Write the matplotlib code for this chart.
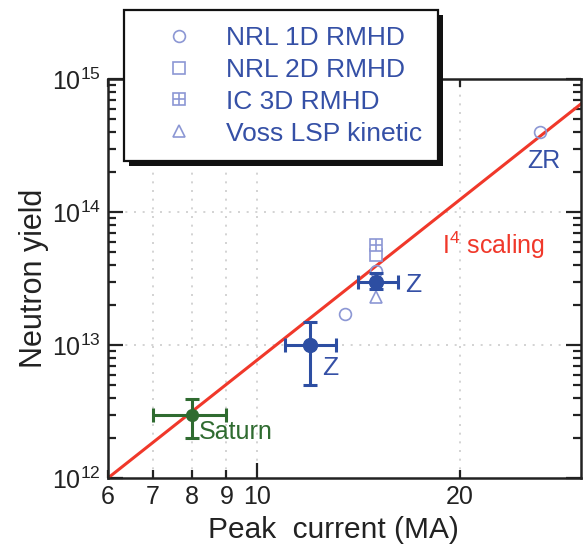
import matplotlib
matplotlib.use("Agg")
import matplotlib.pyplot as plt
from matplotlib.ticker import FixedLocator, NullFormatter, LogLocator, LogFormatterSciNotation, FixedFormatter
from matplotlib.patches import Rectangle
from matplotlib.lines import Line2D

plt.rcParams['font.family'] = ['Liberation Sans', 'DejaVu Sans']
plt.rcParams['mathtext.fontset'] = 'custom'
plt.rcParams['mathtext.rm'] = 'Liberation Sans'
plt.rcParams['mathtext.it'] = 'Liberation Sans:italic'
plt.rcParams['mathtext.bf'] = 'Liberation Sans:bold'

# ---- data ----
saturn_current = [8.0]
saturn_yield = [3.0e12]
saturn_current_err = [[1.0], [1.0]]
saturn_yield_err = [[1.0e12], [0.9e12]]

z_current = [12.0, 15.0]
z_yield = [1.0e13, 3.0e13]
z_current_err = [[1.0, 0.9], [1.1, 1.2]]
z_yield_err = [[0.5e13, 0.35e13], [0.5e13, 0.45e13]]

nrl1d_current = [13.5, 15.0, 26.3]
nrl1d_yield = [1.7e13, 3.6e13, 4.0e14]
nrl2d_current = [15.0]
nrl2d_yield = [4.75e13]
ic3d_current = [15.0]
ic3d_yield = [5.6e13]
voss_current = [15.0]
voss_yield = [2.3e13]

scaling_current = [6.0, 30.3]
scaling_yield = [1.0e12, 6.5e14]

x_major_ticks = [10]
x_major_labels = ['10']
x_minor_ticks = [6, 7, 8, 9, 20]
x_minor_labels = ['6', '7', '8', '9', '20']

legend_labels = ['NRL 1D RMHD', 'NRL 2D RMHD', 'IC 3D RMHD', 'Voss LSP kinetic']

sim_color = '#8c97d4'
exp_blue = '#2d4ea2'
text_blue = '#3550a6'
green = '#2f6b30'
red = '#f0382a'
dark = '#222222'

fig = plt.figure(figsize=(5.83, 5.48), dpi=100)
ax = fig.add_axes([108/583, 70/548, 473/583, 399/548])
ax.set_xscale('log')
ax.set_yscale('log')
ax.set_xlim(6, 30.3)
ax.set_ylim(1e12, 1e15)

# grid
for xv in [7, 8, 9, 10, 20]:
    ax.axvline(xv, color='#cccccc', lw=1.2, ls=(0, (1.2, 4)), zorder=0)
for yv in [1e13, 1e14]:
    ax.axhline(yv, color='#cccccc', lw=1.2, ls=(0, (1.2, 4)), zorder=0)

# scaling line
ax.plot(scaling_current, scaling_yield, color=red, lw=2.2, zorder=2)

# simulations
ms = 8.5
mew = 1.2
ax.plot(nrl1d_current, nrl1d_yield, 'o', mfc='none', mec=sim_color, ms=ms, mew=mew, zorder=3)
ax.plot(nrl2d_current, nrl2d_yield, 's', mfc='white', mec=sim_color, ms=ms, mew=mew, zorder=3)
ax.plot(ic3d_current, ic3d_yield, 's', mfc='white', mec=sim_color, ms=ms, mew=mew, zorder=3)
ax.plot(ic3d_current, ic3d_yield, '+', color=sim_color, ms=ms, mew=mew, zorder=3)
ax.plot(voss_current, voss_yield, '^', mfc='white', mec=sim_color, ms=ms, mew=mew, zorder=3)

# experiments
ax.errorbar(z_current, z_yield, xerr=z_current_err, yerr=z_yield_err, fmt='o',
            color=exp_blue, ms=10, elinewidth=2.2, capsize=5, capthick=2.2, zorder=4)
ax.errorbar(saturn_current, saturn_yield, xerr=saturn_current_err, yerr=saturn_yield_err,
            fmt='o', color=green, ms=8.5, elinewidth=2.2, capsize=5, capthick=2.2, zorder=4)

# annotations
ax.text(25.2, 2.4e14, 'ZR', color=text_blue, fontsize=18, ha='left', va='center')
ax.text(16.6, 2.85e13, 'Z', color=text_blue, fontsize=19, ha='left', va='center')
ax.text(12.5, 6.7e12, 'Z', color=text_blue, fontsize=19, ha='left', va='center')
ax.text(8.2, 2.2e12, 'Saturn', color=green, fontsize=18, ha='left', va='center')
ax.text(18.8, 5.65e13, r'I$^{4}$ scaling', color=red, fontsize=18, ha='left', va='center')

# ticks
ax.xaxis.set_major_locator(FixedLocator(x_major_ticks))
ax.xaxis.set_major_formatter(FixedFormatter(x_major_labels))
ax.xaxis.set_minor_locator(FixedLocator(x_minor_ticks))
ax.xaxis.set_minor_formatter(FixedFormatter(x_minor_labels))
ax.yaxis.set_major_locator(LogLocator(base=10, numticks=10))
ax.yaxis.set_major_formatter(LogFormatterSciNotation())
ax.yaxis.set_minor_locator(LogLocator(base=10, subs=range(2, 10), numticks=20))
ax.yaxis.set_minor_formatter(NullFormatter())
ax.tick_params(which='both', direction='in', top=True, right=True, colors=dark,
               labelcolor=dark, labelsize=18)
ax.tick_params(which='major', length=11, width=1.6, pad=5)
ax.tick_params(which='minor', length=6, width=1.6, pad=5)
for s in ax.spines.values():
    s.set_linewidth(1.8)
    s.set_color(dark)

ax.set_xlabel('Peak  current (MA)', fontsize=21.5, color=dark, labelpad=5)
ax.xaxis.label.set_x(0.476)
ax.set_ylabel('Neutron yield', fontsize=22, color=dark, labelpad=2)

# legend
h1 = Line2D([], [], ls='none', marker='o', mfc='none', mec=sim_color, ms=ms, mew=mew)
h2 = Line2D([], [], ls='none', marker='s', mfc='none', mec=sim_color, ms=ms, mew=mew)
h3a = Line2D([], [], ls='none', marker='s', mfc='none', mec=sim_color, ms=ms, mew=mew)
h3b = Line2D([], [], ls='none', marker='+', color=sim_color, ms=ms, mew=mew)
h4 = Line2D([], [], ls='none', marker='^', mfc='none', mec=sim_color, ms=ms, mew=mew)
leg = ax.legend([h1, h2, (h3a, h3b), h4], legend_labels,
                loc='upper left', bbox_to_anchor=(124/583, 1 - 10/548),
                bbox_transform=fig.transFigure, fontsize=19, labelcolor=text_blue,
                frameon=True, fancybox=False, edgecolor='#111111', framealpha=1,
                borderpad=0.6, labelspacing=0.3, handlelength=3.0,
                handletextpad=0.25, borderaxespad=0)
leg.get_frame().set_linewidth(1.6)
leg.set_zorder(6)

fig.canvas.draw()
bb = leg.get_window_extent()
shadow = Rectangle((bb.x0 + 5, bb.y0 - 5), bb.width, bb.height, transform=None,
                   facecolor='#111111', edgecolor='none', clip_on=False, zorder=5.9)
ax.add_artist(shadow)

fig.savefig('out.png', dpi=100)
